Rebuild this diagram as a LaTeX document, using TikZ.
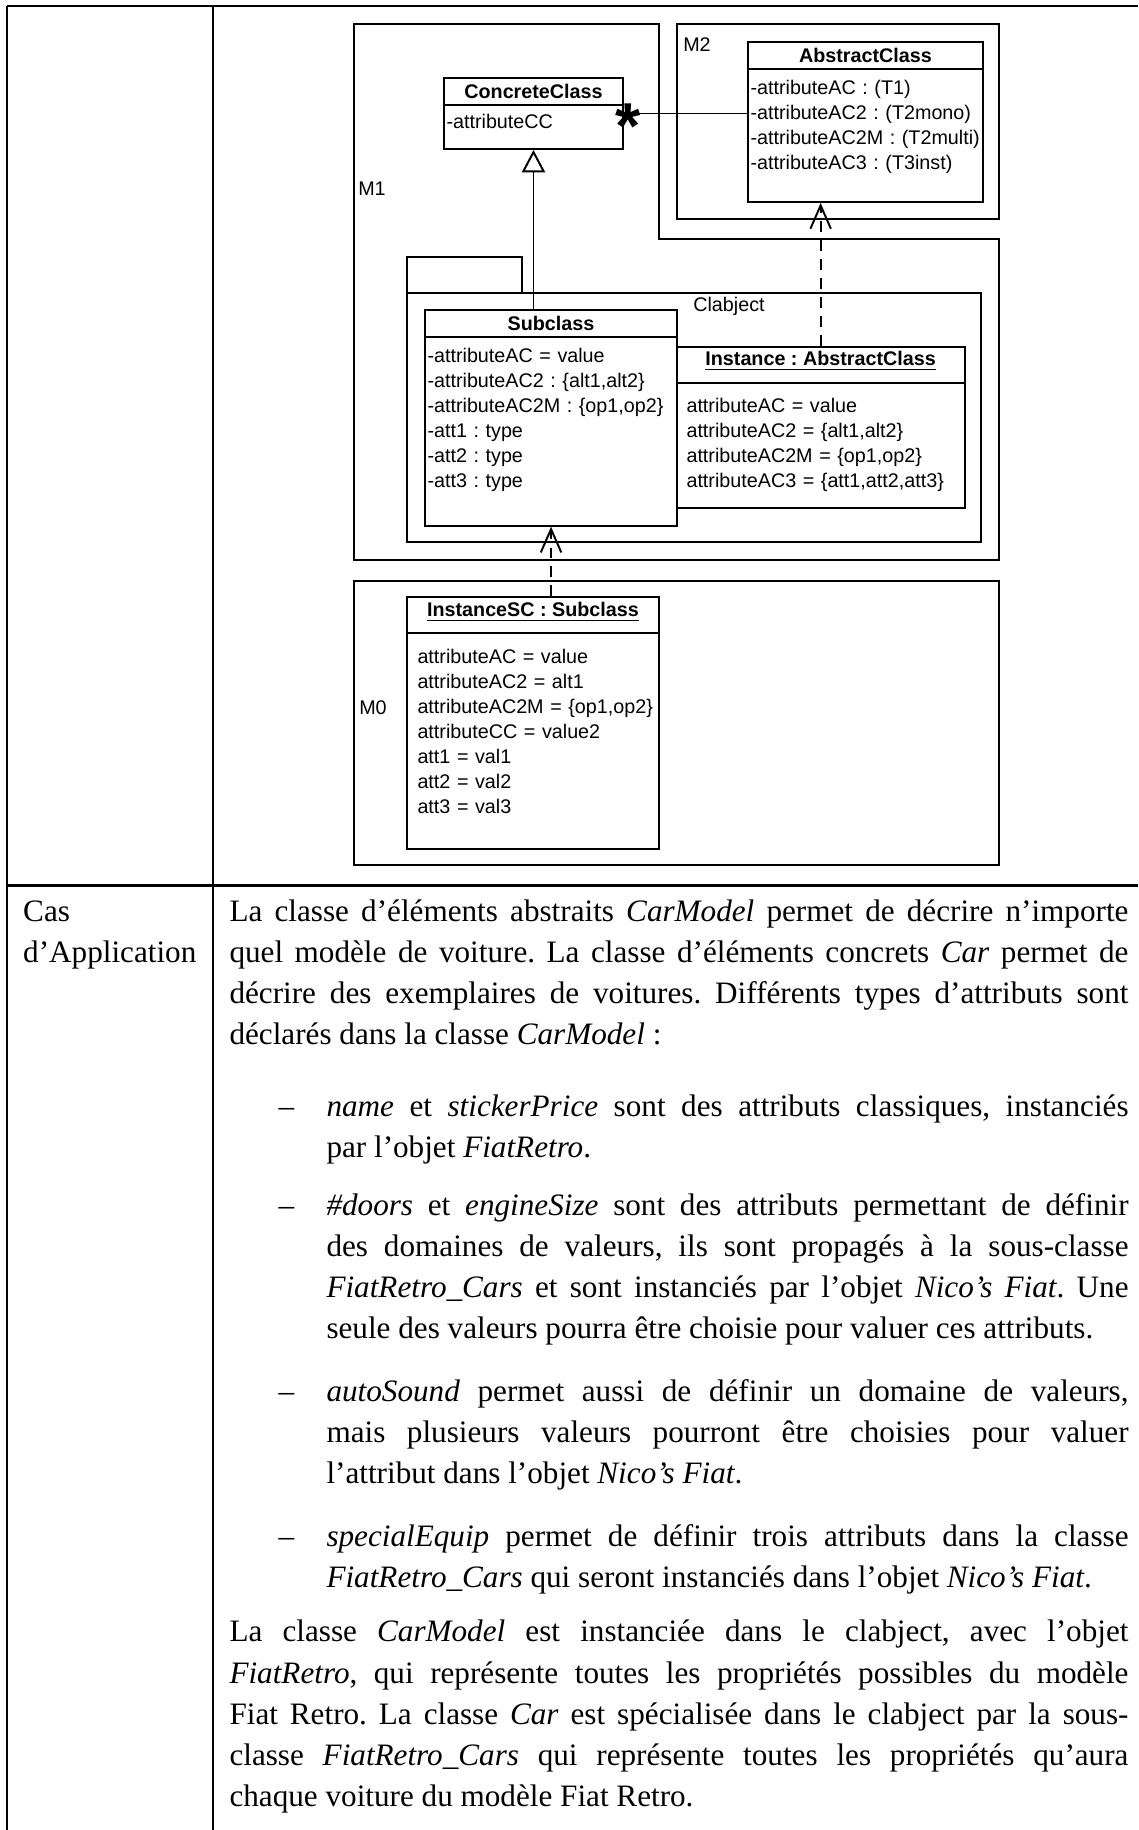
\documentclass[tikz,border=0pt]{standalone}
\usepackage{fontspec}
\setmainfont{Liberation Serif}[Ligatures={TeX,NoCommon}]
\setsansfont{Liberation Sans}
\usetikzlibrary{arrows.meta}
\usetikzlibrary{fit}

\tikzset{
  tabline/.style = {line width=1pt},
  pkg/.style = {draw, line width=0.75pt, inner sep=0pt},
  classbox/.style = {draw, line width=0.75pt, fill=white, inner sep=0pt},
  cline/.style = {line width=0.75pt},
  uml/.style = {font=\sffamily\fontsize{7.6}{9.63}\selectfont\frenchspacing},
  umlb/.style = {font=\sffamily\bfseries\fontsize{7.6}{9.63}\selectfont\frenchspacing},
  attrs/.style = {uml, anchor=base west, text width=130pt, align=left},
  gen/.style = {line width=0.75pt, -{Triangle[open, length=8.6pt, width=8.9pt]}},
  inst/.style = {line width=0.75pt, dash pattern=on 4.2pt off 3.1pt, -{Straight Barb[length=9pt, width=7.9pt]}},
  body/.style = {font=\fontsize{12}{15.9}\selectfont\frenchspacing\sloppy, anchor=base west, align=justify},
}

\begin{document}
\begin{tikzpicture}[x=0.385pt, y=-0.385pt, inner sep=0pt]
  \useasboundingbox (0,0) rectangle (1138,1830);

  % table
  \draw[tabline] (7,6) -- (1138,6);
  \draw[tabline] (7,6) -- (7,1830);
  \draw[tabline] (213,6) -- (213,1830);
  \draw[tabline] (7,885.5) -- (1138,885.5);

  % packages
  \draw[cline] (354,24) -- (659,24) -- (659,239) -- (999,239) -- (999,560) -- (354,560) -- cycle;
  \node[uml] (m1) at (372,189) {M1};
  \node[pkg, fit={(677,24) (999,219)}] (m2box) {};
  \node[uml] (m2) at (697,45) {M2};

  \node[classbox, fit={(748,42) (983,202)}] (ac) {};
    \draw[cline] (ac.west |- 0,69) -- (ac.east |- 0,69);
  \node[umlb] (acT) at (865.5,55.5) {AbstractClass};
  \node[attrs] (acA) at (750,94.3) {-attributeAC : (T1)\\-attributeAC2 : (T2mono)\\-attributeAC2M : (T2multi)\\-attributeAC3 : (T3inst)};

  \node[classbox, fit={(444,78) (623,149)}] (cc) {};
    \draw[cline] (cc.west |- 0,105) -- (cc.east |- 0,105);
  \node[umlb] (ccT) at (533.5,91.5) {ConcreteClass};
  \node[attrs] (ccA) at (446,128.7) {-attributeCC};

  \draw[cline] (407.3,292.7) |- (521.8,257.3) -- (521.8,292.7);
  \node[pkg, fit={(407.3,292.7) (980.6,542.3)}] (clab) {};
  \node[uml] (clabL) at (729,306) {Clabject};

  \node[classbox, fit={(676.7,346.7) (964.6,508.3)}] (inst) {};
    \draw[cline] (inst.west |- 0,382.7) -- (inst.east |- 0,382.7);
  \node[umlb] (instT) at (820.6,361) {\underline{Instance : AbstractClass}};
  \node[attrs] (instA) at (686,412) {attributeAC = value\\attributeAC2 = \{alt1,alt2\}\\attributeAC2M = \{op1,op2\}\\attributeAC3 = \{att1,att2,att3\}};

  \node[classbox, fit={(425.4,310) (676.7,525.7)}] (sub) {};
    \draw[cline] (sub.west |- 0,337.3) -- (sub.east |- 0,337.3);
  \node[umlb] (subT) at (551,323.7) {Subclass};
  \node[attrs] (subA) at (427,362) {-attributeAC = value\\-attributeAC2 : \{alt1,alt2\}\\-attributeAC2M : \{op1,op2\}\\-att1 : type\\-att2 : type\\-att3 : type};

  \node[pkg, fit={(354,580.7) (999,865)}] (m0box) {};
  \node[uml] (m0) at (373,708) {M0};

  \node[classbox, fit={(407.3,597.3) (659,849)}] (isc) {};
    \draw[cline] (isc.west |- 0,633.3) -- (isc.east |- 0,633.3);
  \node[umlb] (iscT) at (533,612) {\underline{InstanceSC : Subclass}};
  \node[attrs] (iscA) at (417,663) {attributeAC = value\\attributeAC2 = alt1\\attributeAC2M = \{op1,op2\}\\attributeCC = value2\\att1 = val1\\att2 = val2\\att3 = val3};

  % connectors
  \draw[cline] (cc.east) -- (cc.east -| ac.west);
  \node[font=\sffamily\bfseries\fontsize{25}{25}\selectfont, anchor=base] (mult) at (628,148) {*};
  \draw[gen] (cc.south |- sub.north) -- (cc.south);
  \draw[inst] (inst.north) -- (inst.north |- ac.south);
  \draw[inst] (isc.north -| sub.south) -- (sub.south);

  % text
  \node[body, text width=71pt, align=left] (cas) at (22.7,921) {Cas\\d’Application};

  \node[body, text width=346.1pt] (p1) at (229,921) {La classe d’éléments abstraits \emph{CarModel} permet de décrire n’importe\linebreak quel modèle de voiture. La classe d’éléments concrets \emph{Car} permet de\linebreak décrire des exemplaires de voitures. Différents types d’attributs sont\linebreak déclarés dans la classe \emph{CarModel} :};

  \node[body] (d1) at (278,1116) {–};
  \node[body, text width=308.8pt] (i1) at (326,1116) {\emph{name} et \emph{stickerPrice} sont des attributs classiques, instanciés\linebreak par l’objet \emph{FiatRetro}.};

  \node[body] (d2) at (278,1215) {–};
  \node[body, text width=308.8pt] (i2) at (326,1215) {\emph{\#doors} et \emph{engineSize} sont des attributs permettant de définir\linebreak des domaines de valeurs, ils sont propagés à la sous-classe\linebreak \emph{FiatRetro\_Cars} et sont instanciés par l’objet \emph{Nico’s Fiat}. Une\linebreak seule des valeurs pourra être choisie pour valuer ces attributs.};

  \node[body] (d3) at (278,1401) {–};
  \node[body, text width=308.8pt] (i3) at (326,1401) {\emph{autoSound} permet aussi de définir un domaine de valeurs,\linebreak mais plusieurs valeurs pourront être choisies pour valuer\linebreak l’attribut dans l’objet \emph{Nico’s Fiat}.};

  \node[body] (d4) at (278,1546) {–};
  \node[body, text width=308.8pt] (i4) at (326,1546) {\emph{specialEquip} permet de définir trois attributs dans la classe\linebreak \emph{FiatRetro\_Cars} qui seront instanciés dans l’objet \emph{Nico’s Fiat}.};

  \node[body, text width=346.1pt] (p2) at (229,1641.7) {La classe \emph{CarModel} est instanciée dans le clabject, avec l’objet\linebreak \emph{FiatRetro}, qui représente toutes les propriétés possibles du modèle\linebreak Fiat Retro. La classe \emph{Car} est spécialisée dans le clabject par la sous-\linebreak classe \emph{FiatRetro\_Cars} qui représente toutes les propriétés qu’aura\linebreak chaque voiture du modèle Fiat Retro.};
\end{tikzpicture}
\end{document}
